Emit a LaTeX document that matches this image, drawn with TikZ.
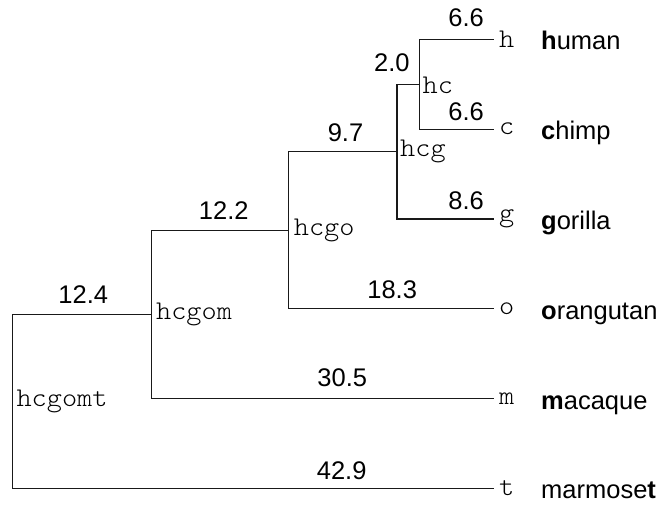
\documentclass[tikz,border=0pt]{standalone}
\usepackage{fontspec}
\setmainfont{Liberation Sans}
\newfontfamily\treemono[FakeStretch=1.07]{lmmonolt10-regular.otf}
\begin{document}
\begin{tikzpicture}[x=1pt,y=-1pt,
  branch/.style={draw=black!90, line width=1.2pt},
  num/.style={anchor=base, inner sep=0pt, font=\fontsize{25.5}{30}\selectfont},
  lab/.style={anchor=west, inner sep=0pt, font=\treemono\fontsize{27}{30}\selectfont},
  taxon/.style={anchor=base west, inner sep=0pt, font=\fontsize{25.5}{30}\selectfont}]
\useasboundingbox (0,0) rectangle (662,504);
% tree points
\coordinate (hcgomt) at (12.3,401.3);
\coordinate (hcgom) at (151.4,314.3);
\coordinate (hcgo) at (288.2,230.1);
\coordinate (hcg) at (397.0,151.55);
\coordinate (hc) at (419.4,84.2);
\coordinate (h) at (493.5,39.3);
\coordinate (c) at (493.5,129.1);
\coordinate (g) at (493.5,218.9);
\coordinate (o) at (493.5,308.7);
\coordinate (m) at (493.5,398.5);
\coordinate (t) at (493.5,488.3);
% branches
\draw[branch] (hcgomt) |- (hcgom);
\draw[branch] (hcgomt) |- (t);
\draw[branch] (hcgom) |- (hcgo);
\draw[branch] (hcgom) |- (m);
\draw[branch] (hcgo) |- (hcg);
\draw[branch] (hcgo) |- (o);
\draw[branch] (hcg) |- (hc);
\draw[branch] (hcg) |- (g);
\draw[branch] (hc) |- (h);
\draw[branch] (hc) |- (c);
% internal labels
\node[lab] (L-hcgomt) at ([xshift=4pt]hcgomt) {hcgomt};
\node[lab] (L-hcgom) at ([xshift=4.5pt]hcgom) {hcgom};
\node[lab] (L-hcgo) at ([xshift=5.5pt]hcgo) {hcgo};
\node[lab] (L-hcg) at ([xshift=3pt]hcg) {hcg};
\node[lab] (L-hc) at ([xshift=3pt,yshift=-1.5pt]hc) {hc};
% leaf labels
\node[lab] (L-h) at ([xshift=5.5pt]h) {h};
\node[lab] (L-c) at ([xshift=5.5pt]c) {c};
\node[lab] (L-g) at ([xshift=5.5pt]g) {g};
\node[lab] (L-o) at ([xshift=5.5pt]o) {o};
\node[lab] (L-m) at ([xshift=5.5pt]m) {m};
\node[lab] (L-t) at ([xshift=5.5pt]t) {t};
% taxon names
\node[taxon] (N-h) at ([xshift=47.5pt,yshift=-10.5pt]h) {\textbf{h}uman};
\node[taxon] (N-c) at ([xshift=47.5pt,yshift=-10.5pt]c) {\textbf{c}himp};
\node[taxon] (N-g) at ([xshift=47.5pt,yshift=-10.5pt]g) {\textbf{g}orilla};
\node[taxon] (N-o) at ([xshift=47.5pt,yshift=-10.5pt]o) {\textbf{o}rangutan};
\node[taxon] (N-m) at ([xshift=47.5pt,yshift=-10.5pt]m) {\textbf{m}acaque};
\node[taxon] (N-t) at ([xshift=47.5pt,yshift=-10.5pt]t) {marmose\textbf{t}};
% branch lengths
\node[num] (B-hcgom) at (83.3,303.3) {12.4};
\node[num] (B-hcgo) at (223.8,219.3) {12.2};
\node[num] (B-hcg) at (345.5,141.7) {9.7};
\node[num] (B-hc) at (391.8,71.7) {2.0};
\node[num] (B-h) at (466.2,26) {6.6};
\node[num] (B-c) at (466.2,120.7) {6.6};
\node[num] (B-g) at (466.2,209) {8.6};
\node[num] (B-o) at (392.2,298.3) {18.3};
\node[num] (B-m) at (342.3,386.7) {30.5};
\node[num] (B-t) at (341.7,479.3) {42.9};
\end{tikzpicture}
\end{document}
